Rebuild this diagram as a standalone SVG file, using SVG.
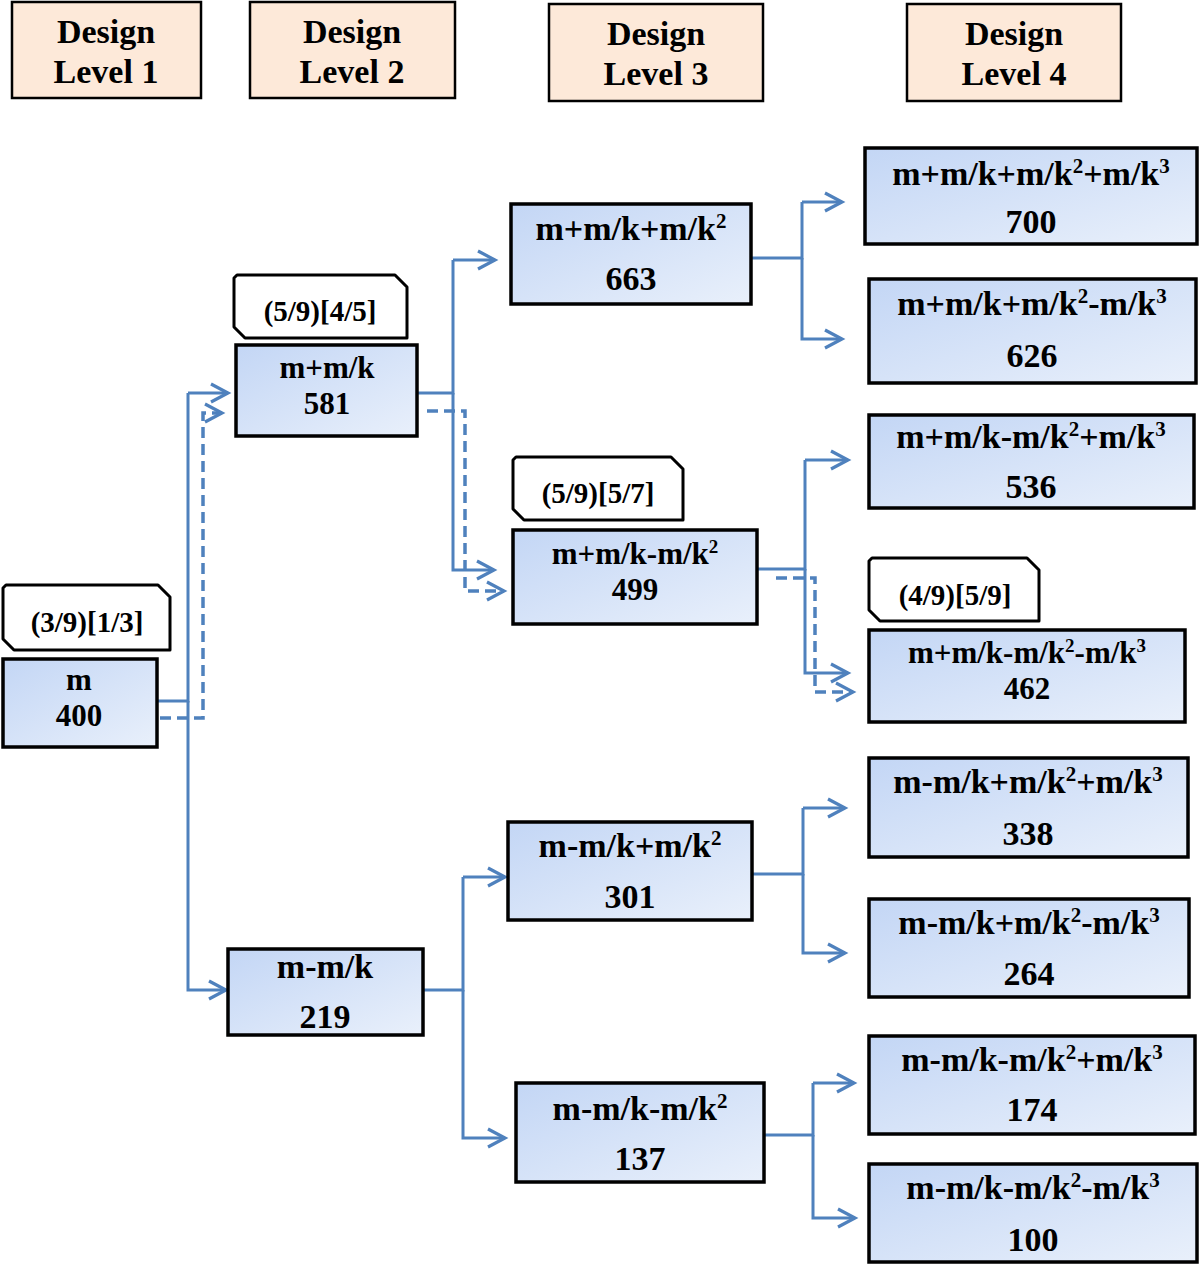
<svg xmlns="http://www.w3.org/2000/svg" width="1200" height="1265" viewBox="0 0 1200 1265">
<defs>
<linearGradient id="nodeFill" x1="0" y1="0" x2="1" y2="1">
<stop offset="0" stop-color="#c3d6f5"/>
<stop offset="1" stop-color="#e9f0fb"/>
</linearGradient>
<marker id="arr" markerUnits="userSpaceOnUse" markerWidth="24" markerHeight="24" viewBox="-20 -12 24 24" refX="0" refY="0" orient="auto">
<path d="M-17,-9 L0,0 L-17,9" fill="none" stroke="#4f81bd" stroke-width="3.2"/>
</marker>
<style>
.hdr{fill:#fde9d9;stroke:#000;stroke-width:2.5}
.node{fill:url(#nodeFill);stroke:#000;stroke-width:3.5}
.tag{fill:#fff;stroke:#000;stroke-width:3;stroke-linejoin:round}
text{font-family:"Liberation Serif","Times New Roman",serif;font-weight:bold;fill:#000;text-anchor:middle}
.t{font-size:34px}
.s{font-size:31px}
.tg{font-size:29px}
.sup{font-size:21px}
.sup2{font-size:19px}
.c{fill:none;stroke:#4f81bd;stroke-width:3}
.a{marker-end:url(#arr)}
.d{stroke-dasharray:11 6;stroke-width:3.5}
</style>
</defs>

<g id="header-1"><rect class="hdr" x="12" y="2" width="189" height="96"/><text class="t" x="106" y="43">Design</text><text class="t" x="106" y="83">Level 1</text></g>
<g id="header-2"><rect class="hdr" x="250" y="2" width="205" height="96"/><text class="t" x="352" y="43">Design</text><text class="t" x="352" y="83">Level 2</text></g>
<g id="header-3"><rect class="hdr" x="549" y="4" width="214" height="97"/><text class="t" x="656" y="45">Design</text><text class="t" x="656" y="85">Level 3</text></g>
<g id="header-4"><rect class="hdr" x="907" y="4" width="214" height="97"/><text class="t" x="1014" y="45">Design</text><text class="t" x="1014" y="85">Level 4</text></g>

<g id="connectors">
<path class="c" d="M157,701 H188 V393"/>
<path class="c a" d="M188,393 H228"/>
<path class="c a" d="M188,701 V990 H226"/>
<path class="c d a" d="M160,718 H203 V413 H222"/>

<path class="c" d="M417,393 H453 V260"/>
<path class="c a" d="M453,260 H495"/>
<path class="c a" d="M453,393 V570 H494"/>
<path class="c d a" d="M427,411 H465 V591 H504"/>

<path class="c" d="M751,258 H802 V202"/>
<path class="c a" d="M802,202 H842"/>
<path class="c a" d="M802,258 V339 H842"/>

<path class="c" d="M757,569 H805 V460"/>
<path class="c a" d="M805,460 H848"/>
<path class="c a" d="M805,569 V673 H848"/>
<path class="c d a" d="M776,578 H815 V692 H853"/>

<path class="c" d="M423,990 H463 V877"/>
<path class="c a" d="M463,877 H505"/>
<path class="c a" d="M463,990 V1138 H505"/>

<path class="c" d="M753,874 H803 V808"/>
<path class="c a" d="M803,808 H845"/>
<path class="c a" d="M803,874 V953 H845"/>

<path class="c" d="M764,1135 H813 V1083"/>
<path class="c a" d="M813,1083 H854"/>
<path class="c a" d="M813,1135 V1218 H855"/>
</g>

<g id="tag-1"><path class="tag" d="M6,585 H158 L170,597 V650 H14 L3,639 V588 Z"/><text class="tg" x="87" y="632">(3/9)[1/3]</text></g>
<g id="tag-2"><path class="tag" d="M237,275 H395 L407,287 V338 H245 L234,327 V278 Z"/><text class="tg" x="320" y="321">(5/9)[4/5]</text></g>
<g id="tag-3"><path class="tag" d="M516,457 H671 L683,469 V520 H524 L513,509 V460 Z"/><text class="tg" x="598" y="503">(5/9)[5/7]</text></g>
<g id="tag-4"><path class="tag" d="M872,558 H1027 L1039,570 V621 H880 L869,610 V561 Z"/><text class="tg" x="955" y="605">(4/9)[5/9]</text></g>

<g id="n-400"><rect class="node" x="3" y="659" width="154" height="88"/><text class="s" x="79" y="690">m</text><text class="s" x="79" y="726">400</text></g>
<g id="n-581"><rect class="node" x="236" y="345" width="181" height="91"/><text class="s" x="327" y="378">m+m/k</text><text class="s" x="327" y="414">581</text></g>
<g id="n-219"><rect class="node" x="228" y="949" width="195" height="86"/><text class="t" x="325" y="978">m-m/k</text><text class="t" x="325" y="1028">219</text></g>

<g id="n-663"><rect class="node" x="511" y="204" width="240" height="100"/><text class="t" x="631" y="240">m+m/k+m/k<tspan class="sup" dy="-12">2</tspan></text><text class="t" x="631" y="290">663</text></g>
<g id="n-499"><rect class="node" x="513" y="530" width="244" height="94"/><text class="s" x="635" y="564">m+m/k-m/k<tspan class="sup2" dy="-11">2</tspan></text><text class="s" x="635" y="600">499</text></g>
<g id="n-301"><rect class="node" x="508" y="822" width="244" height="98"/><text class="t" x="630" y="857">m-m/k+m/k<tspan class="sup" dy="-12">2</tspan></text><text class="t" x="630" y="908">301</text></g>
<g id="n-137"><rect class="node" x="516" y="1083" width="248" height="99"/><text class="t" x="640" y="1120">m-m/k-m/k<tspan class="sup" dy="-12">2</tspan></text><text class="t" x="640" y="1170">137</text></g>

<g id="n-700"><rect class="node" x="865" y="148" width="332" height="96"/><text class="t" x="1031" y="185">m+m/k+m/k<tspan class="sup" dy="-12">2</tspan><tspan dy="12">+m/k</tspan><tspan class="sup" dy="-12">3</tspan></text><text class="t" x="1031" y="233">700</text></g>
<g id="n-626"><rect class="node" x="869" y="279" width="327" height="104"/><text class="t" x="1032" y="315">m+m/k+m/k<tspan class="sup" dy="-12">2</tspan><tspan dy="12">-m/k</tspan><tspan class="sup" dy="-12">3</tspan></text><text class="t" x="1032" y="367">626</text></g>
<g id="n-536"><rect class="node" x="869" y="415" width="325" height="93"/><text class="t" x="1031" y="448">m+m/k-m/k<tspan class="sup" dy="-12">2</tspan><tspan dy="12">+m/k</tspan><tspan class="sup" dy="-12">3</tspan></text><text class="t" x="1031" y="498">536</text></g>
<g id="n-462"><rect class="node" x="869" y="630" width="316" height="92"/><text class="s" x="1027" y="663">m+m/k-m/k<tspan class="sup2" dy="-11">2</tspan><tspan dy="11">-m/k</tspan><tspan class="sup2" dy="-11">3</tspan></text><text class="s" x="1027" y="699">462</text></g>
<g id="n-338"><rect class="node" x="869" y="758" width="319" height="99"/><text class="t" x="1028" y="793">m-m/k+m/k<tspan class="sup" dy="-12">2</tspan><tspan dy="12">+m/k</tspan><tspan class="sup" dy="-12">3</tspan></text><text class="t" x="1028" y="845">338</text></g>
<g id="n-264"><rect class="node" x="869" y="899" width="320" height="98"/><text class="t" x="1029" y="934">m-m/k+m/k<tspan class="sup" dy="-12">2</tspan><tspan dy="12">-m/k</tspan><tspan class="sup" dy="-12">3</tspan></text><text class="t" x="1029" y="985">264</text></g>
<g id="n-174"><rect class="node" x="869" y="1036" width="326" height="98"/><text class="t" x="1032" y="1071">m-m/k-m/k<tspan class="sup" dy="-12">2</tspan><tspan dy="12">+m/k</tspan><tspan class="sup" dy="-12">3</tspan></text><text class="t" x="1032" y="1121">174</text></g>
<g id="n-100"><rect class="node" x="869" y="1164" width="328" height="98"/><text class="t" x="1033" y="1199">m-m/k-m/k<tspan class="sup" dy="-12">2</tspan><tspan dy="12">-m/k</tspan><tspan class="sup" dy="-12">3</tspan></text><text class="t" x="1033" y="1251">100</text></g>
</svg>
